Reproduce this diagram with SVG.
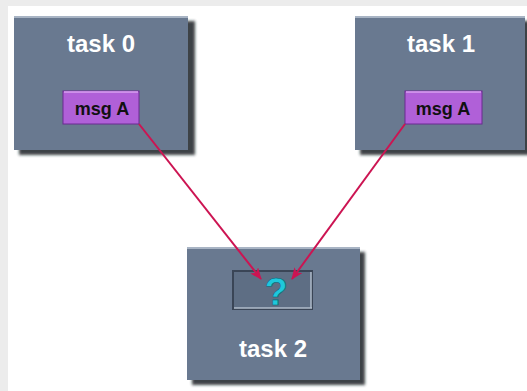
<svg xmlns="http://www.w3.org/2000/svg" width="527" height="391" viewBox="0 0 527 391">
<defs>
<style>
.task{fill:#697990;stroke:none}
.shadow{fill:#1c2028;opacity:0.85}
.hl{fill:none;stroke:#a8b4c4;stroke-width:2}
.tl{font-family:"Liberation Sans",Arial,sans-serif;font-weight:bold;font-size:24px;fill:#ffffff;text-anchor:middle}
.msg{fill:#b060d8;stroke:#6a2a90;stroke-width:1}
.ml{font-family:"Liberation Sans",Arial,sans-serif;font-weight:bold;font-size:18px;fill:#111111;text-anchor:middle}
.conn{stroke:#cc1452;stroke-width:2;fill:none;marker-end:url(#ah)}
</style>
<marker id="ah" viewBox="0 0 12 10" refX="11" refY="5" markerWidth="12" markerHeight="10" markerUnits="userSpaceOnUse" orient="auto">
<path d="M0,0 L12,5 L0,10 L3,5 Z" fill="#cc1452"/>
</marker>
<filter id="blur" x="-10%" y="-10%" width="130%" height="130%"><feGaussianBlur stdDeviation="1.5"/></filter>
</defs>
<rect x="0" y="0" width="527" height="391" fill="#ececec"/>
<rect x="8" y="6" width="519" height="385" fill="#ffffff"/>
<g id="task0">
<rect class="shadow" x="19" y="21" width="176" height="134" filter="url(#blur)"/>
<rect class="task" x="14" y="16" width="174" height="134"/>
<line class="hl" x1="14" y1="17" x2="188" y2="17"/>
<text class="tl" x="101" y="52">task 0</text>
<rect class="msg" x="63" y="91" width="76" height="33"/>
<line x1="64" y1="92" x2="138" y2="92" stroke="#d8a0f0" stroke-width="1.5"/>
<text class="ml" x="102" y="115">msg A</text>
</g>
<g id="task1">
<rect class="shadow" x="360" y="21" width="170" height="134" filter="url(#blur)"/>
<rect class="task" x="355" y="16" width="170" height="134"/>
<line class="hl" x1="355" y1="17" x2="525" y2="17"/>
<text class="tl" x="441" y="52">task 1</text>
<rect class="msg" x="405" y="91" width="77" height="33"/>
<line x1="406" y1="92" x2="481" y2="92" stroke="#d8a0f0" stroke-width="1.5"/>
<text class="ml" x="443" y="115">msg A</text>
</g>
<g id="task2">
<rect class="shadow" x="192" y="252" width="173" height="133" filter="url(#blur)"/>
<rect class="task" x="187" y="247" width="173" height="133"/>
<line class="hl" x1="187" y1="248" x2="360" y2="248"/>
<rect x="233" y="271" width="79" height="38" fill="#5e6e84" stroke="#3a4556" stroke-width="2"/>
<line x1="234" y1="308" x2="312" y2="308" stroke="#b0bccb" stroke-width="1.5"/>
<line x1="311" y1="272" x2="311" y2="308" stroke="#b0bccb" stroke-width="1.5"/>
<text x="276" y="305" font-family="Liberation Sans,Arial,sans-serif" font-weight="bold" font-size="38" fill="#1ec8dc" stroke="#0a6070" stroke-width="0.6" text-anchor="middle">?</text>
<text class="tl" x="273" y="357">task 2</text>
</g>
<g id="connectors">
<line class="conn" x1="139" y1="124" x2="261" y2="279"/>
<line class="conn" x1="405" y1="124" x2="292" y2="279"/>
</g>
</svg>
